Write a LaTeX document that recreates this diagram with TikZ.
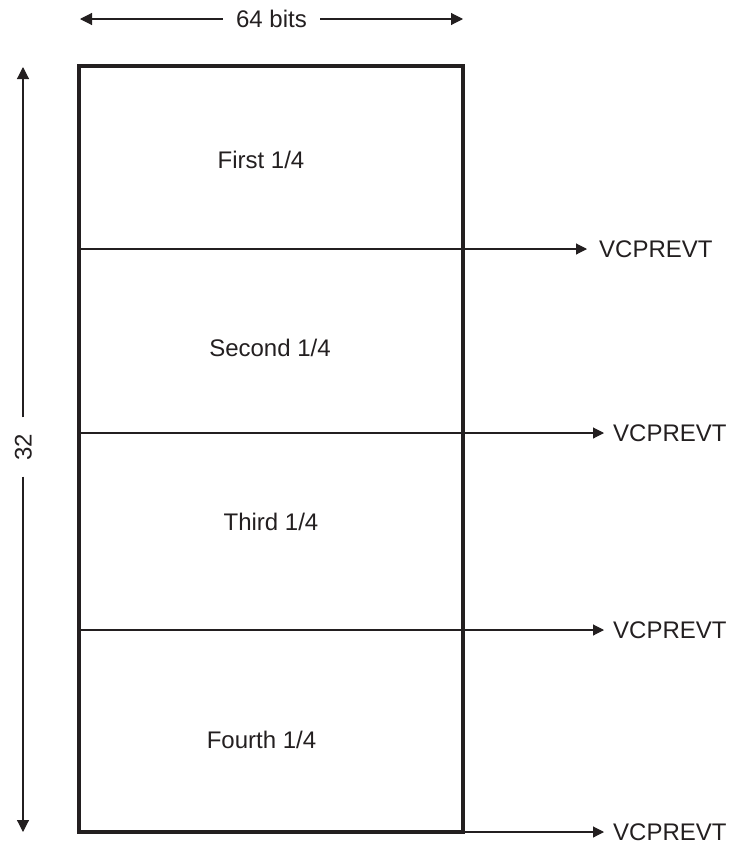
\documentclass[tikz,border=0pt]{standalone}
\usepackage{fontspec}
\setmainfont{Liberation Sans}
\usetikzlibrary{arrows.meta}
\definecolor{ink}{RGB}{35,31,32}
\begin{document}
\begin{tikzpicture}[x=1pt,y=-1pt,
  every node/.style={font=\fontsize{24}{28}\selectfont, text=ink},
  frame/.style={draw=ink, line width=3.2pt, inner sep=0pt, outer sep=0pt, minimum width=384pt, minimum height=766pt},
  seclabel/.style={anchor=base, inner sep=0pt},
  outlabel/.style={anchor=west, inner sep=0pt, text height=17pt, text depth=0pt},
  dimlabel/.style={inner ysep=0pt, inner xsep=13pt, text height=17pt, text depth=0pt},
  thinline/.style={draw=ink, line width=1.1pt},
  sigarrow/.style={thinline, -{Triangle[length=11pt,width=11pt]}},
  dimarrow/.style={thinline, -{Triangle[length=12pt,width=12pt]}}]
  \useasboundingbox (0,0) rectangle (730,846);

  % register block
  \node[frame] (frame) at (271,449) {};

  % quarter labels
  \node[seclabel] (q1) at (261,168) {First 1/4};
  \node[seclabel] (q2) at (270,356) {Second 1/4};
  \node[seclabel] (q3) at (271,530) {Third 1/4};
  \node[seclabel] (q4) at (261.5,748) {Fourth 1/4};

  % boundary lines and event outputs
  \coordinate (b1) at (79,249);
  \coordinate (b2) at (79,433);
  \coordinate (b3) at (79,630);
  \coordinate (b4) at (frame.south east);
  \node[outlabel] (v1) at (599,249) {VCPREVT};
  \node[outlabel] (v2) at (613,433) {VCPREVT};
  \node[outlabel] (v3) at (613,630) {VCPREVT};
  \node[outlabel] (v4) at (613,832) {VCPREVT};
  \draw[sigarrow, shorten >=12pt] (b1) -- (v1.west);
  \draw[sigarrow, shorten >=9pt] (b2) -- (v2.west);
  \draw[sigarrow, shorten >=9pt] (b3) -- (v3.west);
  \draw[sigarrow, shorten >=9pt] (b4) -- (v4.west);

  % width dimension
  \coordinate (wl) at (80,19);
  \coordinate (wr) at (463,19);
  \node[dimlabel] (w) at (271.5,19) {64 bits};
  \draw[dimarrow] (w.west) -- (wl);
  \draw[dimarrow] (w.east) -- (wr);

  % height dimension
  \coordinate (ht) at (23,67);
  \coordinate (hb) at (23,832);
  \node[dimlabel, rotate=90, inner xsep=16pt] (h) at (23,447) {32};
  \draw[dimarrow] (h.east) -- (ht);
  \draw[dimarrow] (h.west) -- (hb);
\end{tikzpicture}
\end{document}
